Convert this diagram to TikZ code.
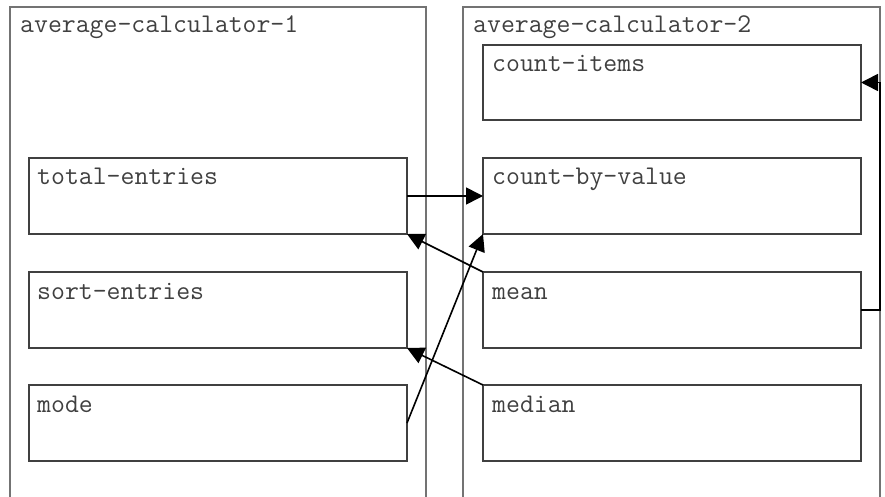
\documentclass[tikz,border=0pt]{standalone}
\usepackage{fontspec}
\usetikzlibrary{arrows.meta}
\begin{document}
\begin{tikzpicture}[x=1pt,y=1pt,
 outerbox/.style={draw=black!55, line width=1.2pt, minimum width=416pt, minimum height=520pt, anchor=north west, inner sep=0pt, outer sep=0pt},
 innerbox/.style={draw=black!75, line width=1.2pt, minimum width=378pt, minimum height=76pt, anchor=north west, inner sep=0pt, outer sep=0pt},
 lbl/.style={anchor=base west, inner sep=0pt, font=\ttfamily\fontsize{27}{32}\selectfont, text=black!75},
 conn/.style={line width=1.6pt, -{Triangle[length=17pt,width=17pt]}}]
\useasboundingbox (0,0) rectangle (885,496);
\begin{scope}
\clip (0,0) rectangle (885,496);
\node[outerbox] (ac1) at (10,489) {};
\node[outerbox, minimum width=417pt] (ac2) at (463,489) {};
\end{scope}
\node[lbl] (ac1t) at ([xshift=10pt,yshift=-26pt]ac1.north west) {average-calculator-1};
\node[lbl] (ac2t) at ([xshift=10pt,yshift=-26pt]ac2.north west) {average-calculator-2};
% left column
\node[innerbox] (total) at (29,338) {};
\node[innerbox] (sort) at (29,224) {};
\node[innerbox] (mode) at (29,111) {};
% right column
\node[innerbox, minimum height=75pt] (ci) at (483,451) {};
\node[innerbox] (cbv) at (483,338) {};
\node[innerbox] (mean) at (483,224) {};
\node[innerbox] (median) at (483,111) {};
% labels
\node[lbl] (totalt) at ([xshift=8pt,yshift=-27pt]total.north west) {total-entries};
\node[lbl] (sortt) at ([xshift=8pt,yshift=-27pt]sort.north west) {sort-entries};
\node[lbl] (modet) at ([xshift=8pt,yshift=-27pt]mode.north west) {mode};
\node[lbl] (cit) at ([xshift=9pt,yshift=-27pt]ci.north west) {count-items};
\node[lbl] (cbvt) at ([xshift=9pt,yshift=-27pt]cbv.north west) {count-by-value};
\node[lbl] (meant) at ([xshift=9pt,yshift=-27pt]mean.north west) {mean};
\node[lbl] (mediant) at ([xshift=9pt,yshift=-27pt]median.north west) {median};
% connectors
\draw[conn] (total.east) -- (cbv.west);
\draw[conn] (mean.north west) -- (total.south east);
\draw[conn] (median.north west) -- (sort.south east);
\draw[conn] (mode.east) -- (cbv.south west);
\draw[conn] (mean.east) -- ++(19,0) |- (ci.east);
\end{tikzpicture}
\end{document}
